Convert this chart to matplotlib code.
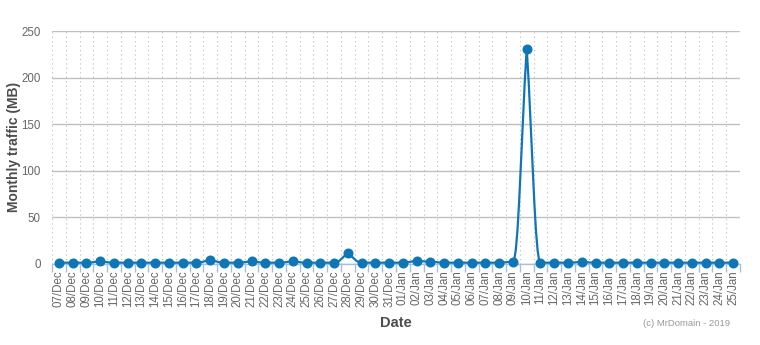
import numpy as np
import matplotlib
matplotlib.use("Agg")
import matplotlib.pyplot as plt
from matplotlib.path import Path
from matplotlib.patches import PathPatch
from matplotlib.ticker import FixedLocator, NullFormatter

plt.rcParams['font.family'] = ['Liberation Sans', 'DejaVu Sans']

dec_days = [f"{d:02d}/Dec" for d in range(7, 32)]
jan_days = [f"{d:02d}/Jan" for d in range(1, 26)]
dates = dec_days + jan_days

dec_vals = [1, 1, 1, 2.5, 1, 1, 1, 1, 1, 1, 1, 4, 1, 1, 2.5, 1, 1, 2.5, 1, 1, 1, 11, 1, 1, 1]
jan_vals = [1, 3, 2, 1, 1, 1, 1, 1, 2, 231, 1, 1, 1, 2, 1, 1, 1, 1, 1, 1, 1, 1, 1, 1, 1]
traffic = dec_vals + jan_vals

y_ticks = [0, 50, 100, 150, 200, 250]

color = '#0e76b6'

fig = plt.figure(figsize=(7.6, 3.45), dpi=100)
ax = fig.add_axes([52/760, 1 - 263.6/345, (740-52)/760, (263.6-31)/345])

x = np.arange(len(dates))
y = np.array(traffic, dtype=float)

ax.set_xlim(-0.5, len(dates) - 0.5)
ax.set_ylim(0, 250)

# Highcharts-style spline path (computed in pixel-proportional space)
sx = 688 / len(dates)
sy = 232.6 / 250
px = x * sx
py = y * sy
n = len(px)
lcx = px.copy(); lcy = py.copy(); rcx = px.copy(); rcy = py.copy()
s = 1.5
den = s + 1
for i in range(1, n - 1):
    lx, ly = px[i-1], py[i-1]
    nx, ny = px[i+1], py[i+1]
    X, Y = px[i], py[i]
    a_x = (s*X + lx)/den; a_y = (s*Y + ly)/den
    b_x = (s*X + nx)/den; b_y = (s*Y + ny)/den
    dL = np.hypot(a_x - X, a_y - Y)
    dR = np.hypot(b_x - X, b_y - Y)
    corr = (b_y - a_y) * dL / (dL + dR)
    a_y += corr; b_y += corr
    if a_y > ly and a_y > Y:
        a_y = max(ly, Y); b_y = 2*Y - a_y
    elif a_y < ly and a_y < Y:
        a_y = min(ly, Y); b_y = 2*Y - a_y
    if b_y > ny and b_y > Y:
        b_y = max(ny, Y); a_y = 2*Y - b_y
    elif b_y < ny and b_y < Y:
        b_y = min(ny, Y); a_y = 2*Y - b_y
    lcx[i], lcy[i], rcx[i], rcy[i] = a_x, a_y, b_x, b_y

verts = [(x[0], y[0])]
codes = [Path.MOVETO]
for i in range(1, n):
    verts += [(rcx[i-1]/sx, rcy[i-1]/sy), (lcx[i]/sx, lcy[i]/sy), (x[i], y[i])]
    codes += [Path.CURVE4] * 3
patch = PathPatch(Path(verts, codes), facecolor='none', edgecolor=color, lw=1.6, zorder=3, clip_on=False)
ax.add_patch(patch)
ax.plot(x, y, linestyle='none', marker='o', markersize=6.2, color=color, zorder=4, clip_on=False)

# grid
for v in y_ticks:
    ax.axhline(v, color='#c0c0c0', lw=1, zorder=1)
for b in np.arange(-0.5, len(dates) + 0.5, 1):
    ax.axvline(b, color='#bbbbbb', lw=0.8, linestyle=(0, (1, 3)), zorder=0)

for sp in ['top', 'right', 'left']:
    ax.spines[sp].set_visible(False)
ax.spines['bottom'].set_color('#a8c0e0')
ax.spines['bottom'].set_linewidth(1)
ax.spines['bottom'].set_zorder(2)

ax.set_yticks(y_ticks)
ax.set_yticklabels([str(v) for v in y_ticks], color='#666666', fontsize=8.3)
ax.tick_params(axis='y', length=0, pad=8)

ax.set_xticks(x)
ax.set_xticklabels(dates, rotation=90, color='#666666', fontsize=8.3)
ax.tick_params(axis='x', which='major', length=0, pad=5)
ax.xaxis.set_minor_locator(FixedLocator(np.arange(-0.5, len(dates) + 0.5, 1)))
ax.xaxis.set_minor_formatter(NullFormatter())
ax.tick_params(axis='x', which='minor', length=6, color='#a8c0e0', width=1)

fig.text(14/760, 1 - 147/345, 'Monthly traffic (MB)', rotation=90, ha='center', va='center',
         fontsize=10, fontweight='bold', color='#4d4d4d')
fig.text(396/760, 1 - 323/345, 'Date', ha='center', va='center',
         fontsize=10.5, fontweight='bold', color='#4d4d4d')
fig.text(730/760, 1 - 323/345, '(c) MrDomain - 2019', ha='right', va='center',
         fontsize=6.8, color='#999999')

fig.savefig('out.png', dpi=100)
